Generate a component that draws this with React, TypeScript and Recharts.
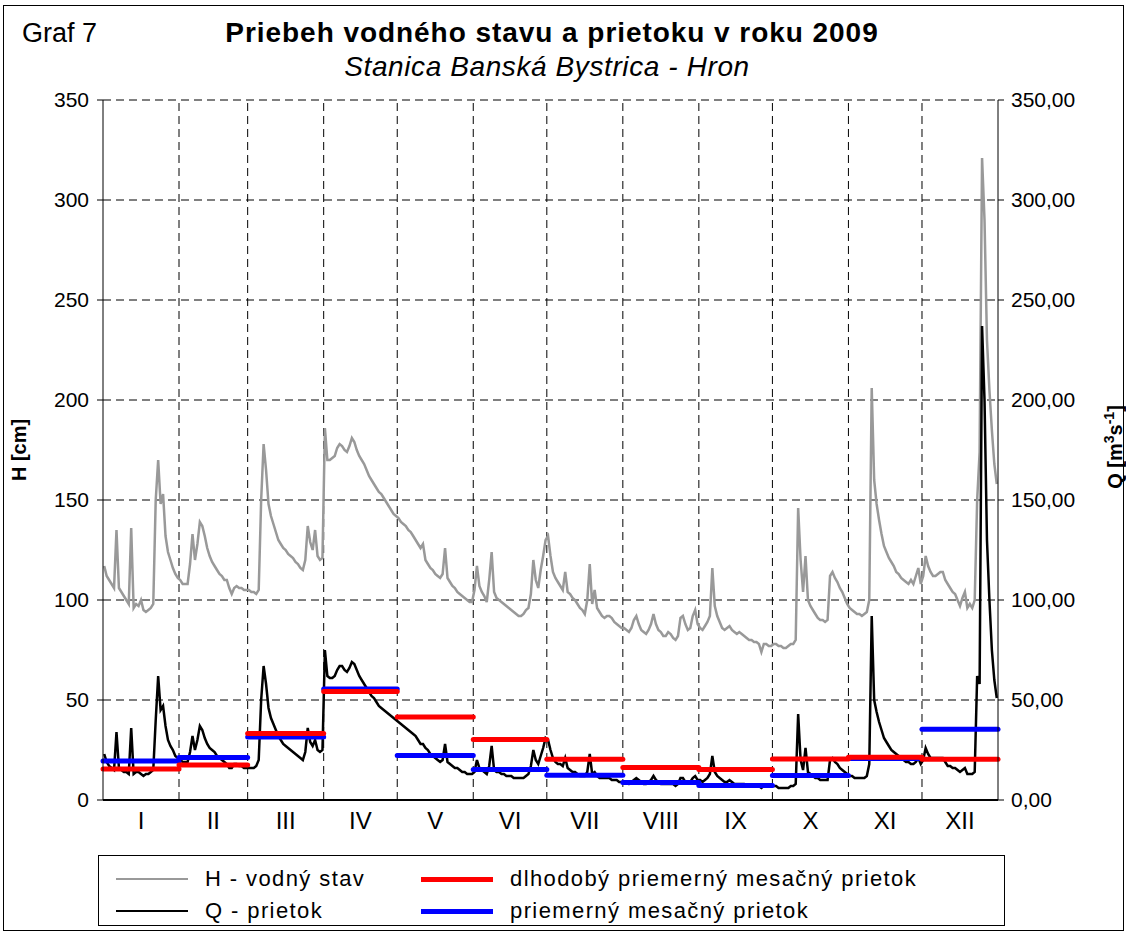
import React from 'react';
import { ComposedChart, Line, XAxis, YAxis, CartesianGrid, ReferenceLine } from 'recharts';

const MONTHS = ['I', 'II', 'III', 'IV', 'V', 'VI', 'VII', 'VIII', 'IX', 'X', 'XI', 'XII'];
const DAYS_IN_MONTH = [31, 28, 31, 30, 31, 30, 31, 31, 30, 31, 30, 31];
const AXIS_TICKS = [0, 50, 100, 150, 200, 250, 300, 350];

// H - vodný stav [cm], denné hodnoty, jeden riadok = jeden mesiac
const H_DAILY = [
  [117, 112, 110, 108, 106, 135, 106, 104, 102, 100, 98, 136, 96, 98, 97, 100, 95, 94, 95, 96, 98, 150, 170, 148, 153, 132, 124, 120, 116, 113, 111],
  [110, 108, 108, 108, 118, 133, 120, 128, 139, 137, 132, 126, 122, 119, 117, 115, 113, 112, 110, 110, 106, 103, 106, 107, 106, 106, 105, 105],
  [105, 104, 104, 103, 105, 150, 178, 165, 148, 142, 138, 134, 130, 128, 126, 125, 123, 122, 121, 119, 118, 116, 115, 120, 137, 129, 125, 135, 122, 120, 121],
  [186, 170, 170, 171, 172, 176, 178, 177, 175, 174, 177, 181, 179, 175, 172, 170, 168, 165, 162, 160, 158, 156, 154, 153, 151, 149, 147, 145, 143, 142],
  [141, 139, 138, 137, 135, 134, 132, 130, 128, 126, 128, 120, 118, 116, 115, 113, 112, 111, 113, 126, 111, 109, 107, 106, 104, 103, 102, 101, 100, 99, 99],
  [105, 117, 107, 104, 102, 99, 110, 124, 104, 101, 100, 99, 98, 97, 96, 95, 94, 93, 92, 92, 93, 95, 96, 103, 120, 110, 106, 115, 122, 130],
  [132, 122, 114, 111, 109, 107, 105, 114, 104, 103, 101, 100, 98, 96, 95, 93, 100, 118, 98, 105, 96, 94, 92, 91, 92, 92, 91, 89, 88, 87, 86],
  [86, 85, 84, 86, 90, 92, 88, 85, 84, 83, 85, 88, 93, 88, 85, 84, 82, 82, 84, 83, 81, 80, 82, 91, 92, 88, 85, 86, 92, 95, 88],
  [86, 85, 87, 89, 92, 116, 97, 92, 89, 86, 85, 86, 87, 85, 84, 83, 84, 83, 82, 81, 80, 80, 79, 79, 78, 74, 78, 78, 77, 77],
  [78, 78, 77, 77, 76, 76, 77, 78, 78, 80, 146, 120, 104, 122, 100, 97, 95, 93, 91, 90, 90, 89, 90, 112, 114, 111, 109, 106, 104, 101, 98],
  [96, 95, 94, 93, 93, 92, 93, 94, 100, 206, 160, 148, 140, 133, 127, 124, 121, 119, 117, 114, 113, 111, 110, 109, 108, 110, 108, 112, 116, 108],
  [112, 122, 117, 114, 112, 112, 113, 114, 114, 110, 108, 106, 104, 103, 100, 97, 101, 104, 96, 98, 96, 100, 150, 174, 321, 290, 230, 205, 185, 168, 158],
];

// Q - prietok [m3/s], denné hodnoty
const Q_DAILY = [
  [23, 19, 17, 16, 15, 34, 16, 15, 14, 14, 13, 36, 13, 14, 14, 13, 12, 13, 13, 14, 15, 40, 62, 45, 47, 37, 30, 27, 25, 22, 21],
  [20, 19, 19, 19, 24, 32, 25, 30, 37, 35, 31, 28, 26, 25, 24, 22, 21, 20, 19, 18, 16, 16, 18, 18, 17, 17, 16, 16],
  [16, 16, 16, 17, 20, 50, 67, 58, 46, 41, 38, 35, 32, 30, 28, 27, 26, 25, 24, 23, 22, 21, 20, 24, 36, 29, 27, 30, 25, 24, 25],
  [75, 62, 61, 61, 62, 65, 67, 67, 65, 64, 66, 69, 68, 65, 62, 60, 58, 56, 54, 52, 51, 49, 47, 46, 45, 44, 43, 42, 41, 40],
  [39, 38, 37, 36, 35, 34, 33, 32, 30, 28, 28, 26, 25, 23, 22, 21, 20, 19, 20, 28, 19, 18, 17, 16, 16, 15, 14, 14, 13, 13, 13],
  [14, 20, 16, 15, 14, 13, 17, 27, 15, 14, 14, 13, 13, 12, 12, 12, 11, 11, 11, 11, 11, 12, 13, 17, 25, 20, 18, 22, 26, 31],
  [30, 25, 21, 19, 18, 18, 17, 21, 16, 15, 14, 14, 13, 12, 12, 12, 14, 23, 13, 14, 12, 11, 11, 11, 11, 11, 10, 10, 10, 9, 9],
  [9, 9, 8, 9, 10, 11, 10, 9, 8, 8, 9, 10, 12, 10, 9, 8, 8, 8, 8, 8, 8, 7, 8, 11, 11, 9, 9, 9, 11, 12, 10],
  [10, 9, 10, 11, 13, 22, 14, 12, 11, 10, 9, 9, 10, 9, 8, 8, 8, 8, 8, 7, 7, 7, 7, 7, 7, 6, 7, 7, 7, 7],
  [7, 7, 6, 6, 6, 6, 6, 7, 7, 8, 43, 20, 15, 26, 14, 13, 12, 11, 11, 10, 10, 10, 10, 20, 21, 19, 18, 16, 15, 14, 13],
  [12, 12, 11, 11, 11, 11, 11, 12, 18, 92, 50, 44, 39, 35, 31, 29, 27, 25, 24, 23, 22, 21, 20, 19, 19, 18, 18, 19, 21, 18],
  [20, 26, 23, 21, 21, 21, 21, 21, 21, 19, 17, 17, 16, 16, 15, 14, 15, 16, 13, 13, 13, 14, 62, 58, 237, 200, 130, 100, 75, 60, 51],
];

// dlhodobý priemerný mesačný prietok
const Q_LONGTERM_MEAN = [15.5, 17.5, 33.3, 54.3, 41.5, 30.3, 20.4, 16.3, 15.3, 20.5, 21.4, 20.4];
// priemerný mesačný prietok 2009
const Q_MONTH_MEAN = [19.5, 21.3, 31.5, 55.5, 22.3, 15.3, 12.4, 8.7, 7.3, 12.3, 20.7, 35.4];

const MONTH_START = DAYS_IN_MONTH.map((_, i) => DAYS_IN_MONTH.slice(0, i).reduce((a, b) => a + b, 0));
const MONTH_MID = MONTH_START.map((s, i) => s + DAYS_IN_MONTH[i] / 2);
const BOUNDARIES = MONTH_START.slice(1);

const rows = H_DAILY.flatMap((month, m) =>
  month.map((h, d) => ({ day: MONTH_START[m] + d + 0.5, h, q: Q_DAILY[m][d] }))
);

const fmtQ = (v: number) => v.toFixed(2).replace('.', ',');
const axisTick = { fontSize: 21, fill: '#000' };

export default function App() {
  return (
    <div
      style={{
        position: 'absolute',
        left: 0,
        top: 0,
        width: 1126,
        height: 935,
        background: '#fff',
        fontFamily: "'Liberation Sans', Arial, sans-serif",
        color: '#000',
      }}
    >
      <div style={{ position: 'absolute', left: 3, top: 5, width: 1121, height: 926, border: '1px solid #000', boxSizing: 'border-box' }} />
      <div style={{ position: 'absolute', left: 22, top: 18, fontSize: 27 }}>Graf 7</div>
      <div style={{ position: 'absolute', left: 552, top: 17, transform: 'translateX(-50%)', fontSize: 28, fontWeight: 'bold', whiteSpace: 'nowrap', letterSpacing: 0.95 }}>
        Priebeh vodného stavu a prietoku v roku 2009
      </div>
      <div style={{ position: 'absolute', left: 547, top: 51, transform: 'translateX(-50%)', fontSize: 28, fontStyle: 'italic', whiteSpace: 'nowrap', letterSpacing: 0.6 }}>
        Stanica Banská Bystrica - Hron
      </div>

      <ComposedChart
        width={1126}
        height={935}
        data={rows}
        margin={{ top: 100, right: 68, bottom: 105, left: 43 }}
        style={{ position: 'absolute', left: 0, top: 0 }}
      >
        <CartesianGrid yAxisId="left" vertical={false} stroke="#000" strokeDasharray="8 5" />
        <XAxis
          dataKey="day"
          type="number"
          domain={[0, 365]}
          ticks={MONTH_MID}
          interval={0}
          tickFormatter={(v) => MONTHS[MONTH_MID.indexOf(v)]}
          tickLine={false}
          axisLine={{ stroke: '#000', strokeWidth: 2 }}
          tick={{ fontSize: 24, fill: '#000' }}
          tickMargin={6}
          height={30}
        />
        <XAxis xAxisId="top" orientation="top" type="number" domain={[0, 365]} tick={false} tickLine={false} height={0} axisLine={{ stroke: '#000' }} />
        <YAxis
          yAxisId="left"
          domain={[0, 350]}
          ticks={AXIS_TICKS}
          interval={0}
          width={60}
          tickSize={6}
          tickMargin={8}
          tick={axisTick}
          axisLine={{ stroke: '#000' }}
          tickLine={{ stroke: '#000' }}
        />
        <YAxis
          yAxisId="right"
          orientation="right"
          domain={[0, 350]}
          ticks={AXIS_TICKS}
          interval={0}
          width={60}
          tickSize={6}
          tickMargin={7}
          tick={axisTick}
          tickFormatter={fmtQ}
          axisLine={{ stroke: '#000' }}
          tickLine={{ stroke: '#000' }}
        />
        {BOUNDARIES.map((b) => (
          <ReferenceLine key={`b${b}`} x={b} yAxisId="left" stroke="#000" strokeDasharray="8 5" />
        ))}
        <Line yAxisId="left" type="linear" dataKey="h" stroke="#999999" strokeWidth={2.5} dot={false} isAnimationActive={false} />
        <Line yAxisId="right" type="linear" dataKey="q" stroke="#000" strokeWidth={2.5} dot={false} isAnimationActive={false} />
        {Q_MONTH_MEAN.map((v, i) => (
          <ReferenceLine
            key={`m${i}`}
            yAxisId="right"
            segment={[{ x: MONTH_START[i], y: v }, { x: MONTH_START[i] + DAYS_IN_MONTH[i], y: v }]}
            stroke="#0000ff"
            strokeWidth={5}
            strokeLinecap="round"
            ifOverflow="visible"
          />
        ))}
        {Q_LONGTERM_MEAN.map((v, i) => (
          <ReferenceLine
            key={`l${i}`}
            yAxisId="right"
            segment={[{ x: MONTH_START[i], y: v }, { x: MONTH_START[i] + DAYS_IN_MONTH[i], y: v }]}
            stroke="#ff0000"
            strokeWidth={5}
            strokeLinecap="round"
            ifOverflow="visible"
          />
        ))}
      </ComposedChart>

      <div style={{ position: 'absolute', left: 19, top: 450, transform: 'translate(-50%, -50%) rotate(-90deg)', fontSize: 20, fontWeight: 'bold', whiteSpace: 'nowrap' }}>
        H [cm]
      </div>
      <div style={{ position: 'absolute', left: 1114, top: 447, transform: 'translate(-50%, -50%) rotate(-90deg)', fontSize: 20, fontWeight: 'bold', whiteSpace: 'nowrap' }}>
        Q [m<sup style={{ fontSize: 14 }}>3</sup>s<sup style={{ fontSize: 14 }}>-1</sup>]
      </div>

      <div style={{ position: 'absolute', left: 98, top: 855, width: 907, height: 71, border: '1px solid #000', boxSizing: 'border-box' }}>
        {[
          { color: '#999999', w: 2, label: 'H - vodný stav', x: 17, y: 23 },
          { color: '#000000', w: 2, label: 'Q - prietok', x: 17, y: 55 },
          { color: '#ff0000', w: 5, label: 'dlhodobý priemerný mesačný prietok', x: 322, y: 23 },
          { color: '#0000ff', w: 5, label: 'priemerný mesačný prietok', x: 322, y: 55 },
        ].map((it) => (
          <React.Fragment key={it.label}>
            <div style={{ position: 'absolute', left: it.x, top: it.y - it.w / 2, width: 72, height: it.w, background: it.color }} />
            <div style={{ position: 'absolute', left: it.x + 89, top: it.y - 13, fontSize: 22, letterSpacing: 1.4, lineHeight: '26px', whiteSpace: 'nowrap' }}>
              {it.label}
            </div>
          </React.Fragment>
        ))}
      </div>
    </div>
  );
}
